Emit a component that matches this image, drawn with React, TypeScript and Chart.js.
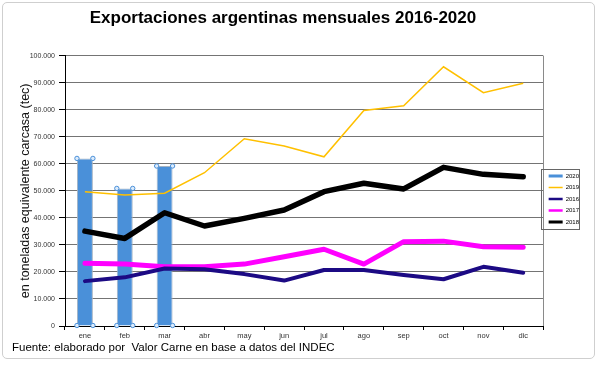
import React, { useEffect, useRef } from 'react';
import { Chart, registerables } from 'chart.js';

Chart.register(...registerables);

const months = ['ene', 'feb', 'mar', 'abr', 'may', 'jun', 'jul', 'ago', 'sep', 'oct', 'nov', 'dic'];
const exp2020 = [62000, 50900, 59200, null, null, null, null, null, null, null, null, null];
const exp2019 = [49700, 48500, 49100, 56700, 69300, 66600, 62600, 79700, 81500, 95900, 86300, 89800];
const exp2016 = [16600, 18000, 21300, 21000, 19200, 16800, 20700, 20700, 18900, 17300, 21900, 19700];
const exp2017 = [23200, 22900, 21900, 21900, 22900, 25600, 28400, 22900, 31200, 31400, 29300, 29100];
const exp2018 = [35100, 32400, 41900, 37000, 39800, 42900, 49700, 52800, 50700, 58700, 56100, 55200];
const yMin = 0;
const yMax = 100000;
const yStep = 10000;

const seriesLabels = ['2020', '2019', '2016', '2017', '2018'];
const seriesColors = ['#4a90d9', '#ffc000', '#1c0a84', '#ff00ff', '#000000'];
const legendLineWidths = [3, 1.5, 2.5, 2.5, 3];

const fmt = (v: number) => String(Math.round(v)).replace(/\B(?=(\d{3})+(?!\d))/g, '.');

const plotBorder = {
  id: 'plotBorder',
  beforeDatasetsDraw(chart: any) {
    const { ctx, chartArea } = chart;
    ctx.save();
    ctx.strokeStyle = '#8a8a8a';
    ctx.lineWidth = 1;
    ctx.beginPath();
    ctx.moveTo(Math.round(chartArea.right) + 0.5, chartArea.top);
    ctx.lineTo(Math.round(chartArea.right) + 0.5, chartArea.bottom);
    ctx.stroke();
    ctx.restore();
  },
};

const barHandles = {
  id: 'barHandles',
  afterDatasetsDraw(chart: any) {
    const { ctx } = chart;
    const meta = chart.getDatasetMeta(0);
    ctx.save();
    ctx.lineWidth = 1;
    ctx.strokeStyle = '#4a90d9';
    ctx.fillStyle = '#dcebfb';
    meta.data.forEach((el: any, i: number) => {
      if (exp2020[i] == null) return;
      const { x, y, base, width } = el.getProps(['x', 'y', 'base', 'width'], true);
      const pts = [
        [x - width / 2, y],
        [x + width / 2, y],
        [x - width / 2, base],
        [x + width / 2, base],
      ];
      pts.forEach(([px, py]) => {
        ctx.beginPath();
        ctx.arc(px, py, 2.2, 0, Math.PI * 2);
        ctx.fill();
        ctx.stroke();
      });
    });
    ctx.restore();
  },
};

const legendBox = {
  id: 'legendBox',
  afterDraw(chart: any) {
    const lg = chart.legend;
    if (!lg || !lg.legendHitBoxes || !lg.legendHitBoxes.length) return;
    const hbs = lg.legendHitBoxes;
    const { ctx, chartArea } = chart;
    const left = chartArea.right - 2;
    const top = hbs[0].top - 4;
    let right = 0;
    hbs.forEach((h: any) => { right = Math.max(right, h.left + h.width); });
    right += 0.5;
    const last = hbs[hbs.length - 1];
    const bottom = last.top + last.height + 4;
    ctx.save();
    ctx.strokeStyle = '#666';
    ctx.lineWidth = 1;
    ctx.strokeRect(Math.round(left) + 0.5, Math.round(top) + 0.5, Math.round(right - left), Math.round(bottom - top));
    ctx.restore();
  },
};

function ExportChart() {
  const ref = useRef<HTMLCanvasElement | null>(null);
  useEffect(() => {
    if (!ref.current) return;
    const chart = new Chart(ref.current, {
      data: {
        labels: months,
        datasets: [
          {
            type: 'bar',
            label: seriesLabels[0],
            data: exp2020,
            backgroundColor: seriesColors[0],
            borderColor: '#a3b3c4',
            borderWidth: 1,
            barPercentage: 0.4,
            categoryPercentage: 1,
            order: 1,
          },
          {
            type: 'line',
            label: seriesLabels[1],
            data: exp2019,
            borderColor: seriesColors[1],
            backgroundColor: seriesColors[1],
            borderWidth: 1.5,
            pointRadius: 0,
            tension: 0,
            order: 0,
          },
          {
            type: 'line',
            label: seriesLabels[2],
            data: exp2016,
            borderColor: seriesColors[2],
            backgroundColor: seriesColors[2],
            borderWidth: 4,
            pointRadius: 0,
            tension: 0,
            borderJoinStyle: 'round',
            borderCapStyle: 'round',
            order: 0,
          },
          {
            type: 'line',
            label: seriesLabels[3],
            data: exp2017,
            borderColor: seriesColors[3],
            backgroundColor: seriesColors[3],
            borderWidth: 5,
            pointRadius: 0,
            tension: 0,
            borderJoinStyle: 'round',
            borderCapStyle: 'round',
            order: 0,
          },
          {
            type: 'line',
            label: seriesLabels[4],
            data: exp2018,
            borderColor: seriesColors[4],
            backgroundColor: seriesColors[4],
            borderWidth: 5.5,
            pointRadius: 0,
            tension: 0,
            borderJoinStyle: 'round',
            borderCapStyle: 'round',
            order: 0,
          },
        ],
      } as any,
      options: {
        responsive: false,
        animation: false,
        devicePixelRatio: 1,
        layout: { padding: { left: 12, top: 55.7, right: 11, bottom: 2.7 } },
        plugins: {
          tooltip: { enabled: false },
          title: { display: false },
          legend: {
            display: true,
            position: 'right',
            align: 'center',
            labels: {
              usePointStyle: true,
              pointStyleWidth: 14,
              padding: 5.5,
              color: '#333',
              font: { family: '"Liberation Sans", Arial, sans-serif', size: 6 },
              generateLabels: (chart: any) =>
                chart.data.datasets.map((ds: any, i: number) => ({
                  text: ds.label,
                  fillStyle: seriesColors[i],
                  strokeStyle: seriesColors[i],
                  lineWidth: legendLineWidths[i],
                  pointStyle: 'line',
                  hidden: false,
                  datasetIndex: i,
                })),
            },
          },
        },
        scales: {
          x: {
            type: 'category',
            offset: true,
            grid: {
              display: true,
              drawOnChartArea: false,
              drawTicks: true,
              tickLength: 4,
              tickColor: '#000',
              offset: true,
            },
            border: { display: true, color: '#000', width: 1 },
            ticks: {
              color: '#333',
              padding: 1,
              maxRotation: 0,
              autoSkip: false,
              font: { family: '"Liberation Sans", Arial, sans-serif', size: 7.5 },
            },
            afterFit: (s: any) => { s.height = 16.3; },
          },
          y: {
            type: 'linear',
            min: yMin,
            max: yMax,
            ticks: {
              stepSize: yStep,
              color: '#333',
              padding: 4,
              font: { family: '"Liberation Sans", Arial, sans-serif', size: 7 },
              callback: (v: any) => fmt(Number(v)),
            },
            grid: {
              color: '#747474',
              lineWidth: 1,
              drawTicks: true,
              tickLength: 6,
              tickColor: '#000',
            },
            border: { display: true, color: '#000', width: 1 },
            title: {
              display: true,
              text: 'en toneladas equivalente carcasa (tec)',
              color: '#111',
              padding: { top: 6, bottom: 0 },
              font: { family: '"Liberation Sans", Arial, sans-serif', size: 12.5, lineHeight: 1.2 },
            },
            afterFit: (s: any) => { s.width = 53; },
          },
        },
      } as any,
      plugins: [plotBorder, barHandles, legendBox],
    });
    return () => chart.destroy();
  }, []);
  return <canvas ref={ref} width={600} height={345} style={{ position: 'absolute', left: 0, top: 0, width: 600, height: 345 }} />;
}

export default function App() {
  return (
    <div
      style={{
        position: 'fixed',
        left: 0,
        top: 0,
        width: 600,
        height: 365,
        background: '#fff',
        overflow: 'hidden',
        fontFamily: '"Liberation Sans", Arial, sans-serif',
      }}
    >
      <div
        style={{
          position: 'absolute',
          left: 2,
          top: 2,
          width: 593,
          height: 357,
          border: '1px solid #cfcfcf',
          borderRadius: 5,
          boxSizing: 'border-box',
        }}
      />
      <ExportChart />
      <div
        style={{
          position: 'absolute',
          left: 0,
          top: 8,
          width: 566,
          textAlign: 'center',
          fontWeight: 'bold',
          fontSize: 17,
          lineHeight: '20px',
          color: '#000',
        }}
      >
        Exportaciones argentinas mensuales 2016-2020
      </div>
      <div
        style={{
          position: 'absolute',
          left: 12,
          top: 339.5,
          fontSize: 11.5,
          lineHeight: '14px',
          color: '#000',
          whiteSpace: 'pre',
        }}
      >
        {'Fuente: elaborado por  Valor Carne en base a datos del INDEC'}
      </div>
    </div>
  );
}
